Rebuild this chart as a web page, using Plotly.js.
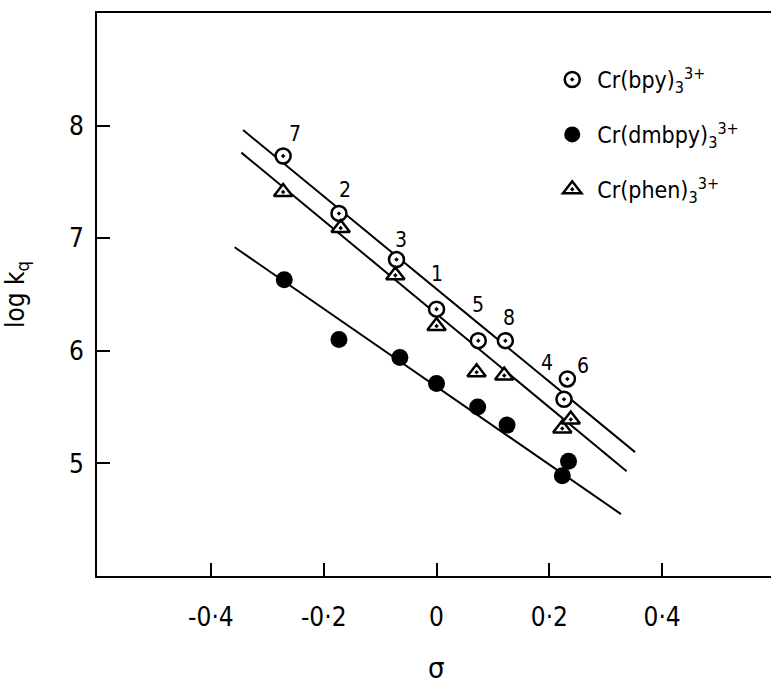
<!DOCTYPE html>
<html>
<head>
<meta charset="utf-8">
<script src="https://cdn.plot.ly/plotly-3.0.1.min.js"></script>
<style>html,body{margin:0;padding:0;background:#fff;}</style>
</head>
<body>
<div id="chart" style="width:771px;height:686px;"></div>
<script>
// substituent numbers (labels above the bpy points)
const substituents = ['7', '2', '3', '1', '5', '8', '4', '6'];

// Cr(bpy)3 3+
const sigmaBpy = [-0.272, -0.173, -0.071, 0.000, 0.074, 0.122, 0.226, 0.232];
const logkBpy  = [7.73, 7.22, 6.81, 6.37, 6.09, 6.09, 5.57, 5.75];

// Cr(dmbpy)3 3+
const sigmaDmbpy = [-0.270, -0.173, -0.065, 0.000, 0.073, 0.125, 0.223, 0.234];
const logkDmbpy  = [6.63, 6.10, 5.94, 5.71, 5.50, 5.34, 4.89, 5.02];

// Cr(phen)3 3+
const sigmaPhen = [-0.272, -0.170, -0.073, 0.000, 0.071, 0.120, 0.223, 0.238];
const logkPhen  = [7.41, 7.09, 6.67, 6.22, 5.81, 5.78, 5.31, 5.39];

// fitted lines (end points)
const fitBpyX = [-0.343, 0.352],  fitBpyY = [7.96, 5.10];
const fitPhenX = [-0.346, 0.337], fitPhenY = [7.76, 4.93];
const fitDmbpyX = [-0.358, 0.327], fitDmbpyY = [6.92, 4.55];

// axis ticks
const xTickVals = [-0.4, -0.2, 0, 0.2, 0.4];
const xTickText = ['-0·4', '-0·2', '0', '0·2', '0·4'];
const yTickVals = [5, 6, 7, 8];
const yTickText = ['5', '6', '7', '8'];

const FONT = '"DejaVu Sans Condensed", "DejaVu Sans", sans-serif';
const lineStyle = {color: 'black', width: 2};

const traces = [
  {x: fitBpyX, y: fitBpyY, mode: 'lines', line: lineStyle, showlegend: false, hoverinfo: 'skip'},
  {x: fitPhenX, y: fitPhenY, mode: 'lines', line: lineStyle, showlegend: false, hoverinfo: 'skip'},
  {x: fitDmbpyX, y: fitDmbpyY, mode: 'lines', line: lineStyle, showlegend: false, hoverinfo: 'skip'},
  {x: sigmaBpy, y: logkBpy, mode: 'markers', name: 'Cr(bpy)<sub>3</sub><sup>3+</sup>', legendgroup: 'a',
   marker: {symbol: 'circle-dot', size: 15, color: 'white', line: {color: 'black', width: 2.5}}},
  {x: sigmaDmbpy, y: logkDmbpy, mode: 'markers', name: 'Cr(dmbpy)<sub>3</sub><sup>3+</sup>', legendgroup: 'b',
   marker: {symbol: 'circle', size: 17, color: 'black', line: {color: 'black', width: 0}}},
  {x: sigmaPhen, y: logkPhen, mode: 'markers', name: 'Cr(phen)<sub>3</sub><sup>3+</sup>', legendgroup: 'c',
   marker: {symbol: 'triangle-up-dot', size: 16, color: 'white', line: {color: 'black', width: 2.5}}}
];

// label offsets in pixels relative to the bpy points
const labelShift = {'7': [12, 22], '2': [6, 23], '3': [5, 20], '1': [0, 35], '5': [0, 36], '8': [4, 23], '4': [-17, 36], '6': [16, 13]};
const annotations = substituents.map((s, i) => ({
  x: sigmaBpy[i], y: logkBpy[i], xref: 'x', yref: 'y', text: s, showarrow: false,
  xshift: labelShift[s][0], yshift: labelShift[s][1],
  font: {family: FONT, size: 21, color: 'black'}
}));
// x-axis title placed below the tick labels
annotations.push({
  x: 0, y: 0, xref: 'x', yref: 'paper', text: 'σ', showarrow: false,
  xanchor: 'center', yanchor: 'middle', yshift: -92,
  font: {family: FONT, size: 29, color: 'black'}
});

const layout = {
  width: 771, height: 686,
  margin: {l: 97, r: 0, t: 13, b: 110},
  paper_bgcolor: 'white', plot_bgcolor: 'white',
  font: {family: FONT, color: 'black'},
  showlegend: true,
  legend: {x: 0.668, y: 0.92, xanchor: 'left', yanchor: 'top', font: {family: FONT, size: 23},
           tracegroupgap: 22, bgcolor: 'rgba(0,0,0,0)', traceorder: 'grouped', itemwidth: 40},
  xaxis: {
    range: [-0.602, 0.593], showline: true, linewidth: 2, linecolor: 'black', mirror: true,
    ticks: 'inside', ticklen: 13, tickwidth: 2, tickcolor: 'black',
    tickvals: xTickVals, ticktext: xTickText, showgrid: false, zeroline: false,
    tickfont: {family: FONT, size: 26}, ticklabelstandoff: 17
  },
  yaxis: {
    range: [4, 9], showline: true, linewidth: 2, linecolor: 'black', mirror: false,
    ticks: 'inside', ticklen: 13, tickwidth: 2, tickcolor: 'black',
    tickvals: yTickVals, ticktext: yTickText, showgrid: false, zeroline: false,
    tickfont: {family: FONT, size: 26}, ticklabelstandoff: 6,
    title: {text: 'log k<sub>q</sub>', font: {family: FONT, size: 26}, standoff: 38}
  },
  annotations: annotations
};

Plotly.newPlot('chart', traces, layout, {displayModeBar: false, staticPlot: true});
</script>
</body>
</html>
